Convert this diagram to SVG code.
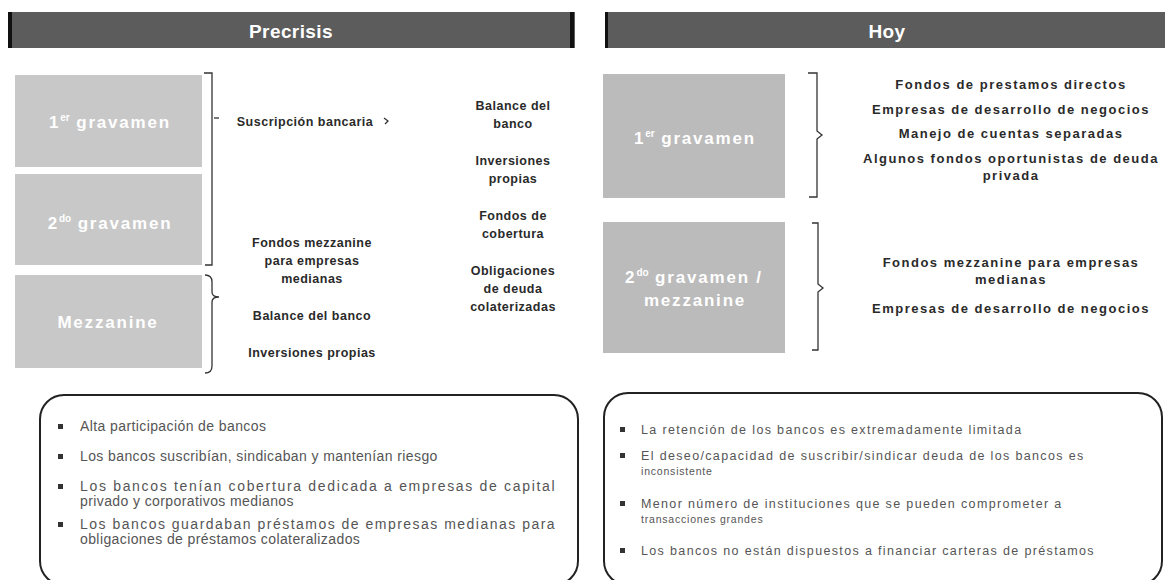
<svg xmlns="http://www.w3.org/2000/svg" width="1165" height="580" viewBox="0 0 1165 580">
<style>
.hdr{fill:#5c5c5c}
.hedge{fill:#111}
.htxt{font-family:"Liberation Sans",Arial,sans-serif;font-weight:bold;font-size:19px;fill:#fff;text-anchor:middle;letter-spacing:0.4px}
.boxL{fill:#c8c8c8}
.boxR{fill:#bbbbbb}
.btxt{font-family:"Liberation Sans",Arial,sans-serif;font-weight:bold;font-size:17px;fill:#fff;text-anchor:middle;letter-spacing:1.8px}
.sup{font-size:10px;letter-spacing:0}
.lbl{font-family:"Liberation Sans",Arial,sans-serif;font-weight:bold;font-size:12.5px;fill:#2a2a2a;text-anchor:middle;letter-spacing:0.5px}
.lblr{font-family:"Liberation Sans",Arial,sans-serif;font-weight:bold;font-size:13px;fill:#2a2a2a;text-anchor:middle;letter-spacing:1.5px}
.brace{fill:none;stroke:#333;stroke-width:1.3}
.panel{fill:none;stroke:#222;stroke-width:2}
.bul{fill:#333}
.btL{font-family:"Liberation Sans",Arial,sans-serif;font-size:14px;fill:#555;letter-spacing:0.4px}
.btR{font-family:"Liberation Sans",Arial,sans-serif;font-size:12.5px;fill:#555;letter-spacing:1.35px}
.btRs{font-family:"Liberation Sans",Arial,sans-serif;font-size:10.5px;fill:#555;letter-spacing:0.8px}
</style>
<rect width="1165" height="580" fill="#fff"/>
<g id="header-precrisis">
<rect class="hdr" x="8" y="12" width="567" height="36"/>
<rect class="hedge" x="8" y="12" width="4" height="36"/>
<rect class="hedge" x="570" y="12" width="4" height="36"/>
<text class="htxt" x="291" y="38">Precrisis</text>
</g>
<g id="header-hoy">
<rect class="hdr" x="605" y="12" width="560" height="36"/>
<rect class="hedge" x="605" y="12" width="3" height="36"/>
<text class="htxt" x="887" y="38">Hoy</text>
</g>
<g id="pre-1er-gravamen">
<rect class="boxL" x="15" y="75" width="187" height="92"/>
<text class="btxt" x="110" y="128">1<tspan class="sup" dy="-7">er</tspan><tspan dy="7"> gravamen</tspan></text>
</g>
<g id="pre-2do-gravamen">
<rect class="boxL" x="15" y="174" width="187" height="91"/>
<text class="btxt" x="110" y="229">2<tspan class="sup" dy="-7">do</tspan><tspan dy="7"> gravamen</tspan></text>
</g>
<g id="pre-mezzanine">
<rect class="boxL" x="15" y="275" width="187" height="93"/>
<text class="btxt" x="108" y="328">Mezzanine</text>
</g>
<g id="pre-col1">
<text class="lbl" x="305" y="126">Suscripción bancaria</text>
<text class="lbl" x="312" y="247">Fondos mezzanine</text>
<text class="lbl" x="312" y="265">para empresas</text>
<text class="lbl" x="312" y="283">medianas</text>
<text class="lbl" x="312" y="320">Balance del banco</text>
<text class="lbl" x="312" y="357">Inversiones propias</text>
</g>
<g id="pre-col2">
<text class="lbl" x="513" y="110">Balance del</text>
<text class="lbl" x="513" y="128">banco</text>
<text class="lbl" x="513" y="165">Inversiones</text>
<text class="lbl" x="513" y="183">propias</text>
<text class="lbl" x="513" y="220">Fondos de</text>
<text class="lbl" x="513" y="238">cobertura</text>
<text class="lbl" x="513" y="275">Obligaciones</text>
<text class="lbl" x="513" y="293">de deuda</text>
<text class="lbl" x="513" y="311">colaterizadas</text>
</g>
<g id="hoy-1er-gravamen">
<rect class="boxR" x="603" y="74" width="182" height="124"/>
<text class="btxt" x="695" y="144">1<tspan class="sup" dy="-7">er</tspan><tspan dy="7"> gravamen</tspan></text>
</g>
<g id="hoy-2do-gravamen">
<rect class="boxR" x="603" y="222" width="182" height="131"/>
<text class="btxt" x="694" y="283">2<tspan class="sup" dy="-7">do</tspan><tspan dy="7"> gravamen /</tspan></text>
<text class="btxt" x="695" y="306">mezzanine</text>
</g>
<g id="hoy-col1">
<text class="lblr" x="1011" y="89">Fondos de prestamos directos</text>
<text class="lblr" x="1011" y="114">Empresas de desarrollo de negocios</text>
<text class="lblr" x="1011" y="138">Manejo de cuentas separadas</text>
<text class="lblr" x="1011" y="163">Algunos fondos oportunistas de deuda</text>
<text class="lblr" x="1011" y="180">privada</text>
<text class="lblr" x="1011" y="267">Fondos mezzanine para empresas</text>
<text class="lblr" x="1011" y="284">medianas</text>
<text class="lblr" x="1011" y="313">Empresas de desarrollo de negocios</text>
</g>
<g id="connectors">
<path class="brace" d="M204,73 H212 V265 H205"/>
<path class="brace" d="M214,118 H219"/>
<path class="brace" d="M384,118 L388,121 L385,124"/>
<path class="brace" d="M205,275 Q212,275 212,282 V292 Q212,297 219,297 Q212,297 212,302 V366 Q212,373 205,373"/>
<path class="brace" d="M808,73 H817 V131 L822,135 L817,139 V197 H809"/>
<path class="brace" d="M812,223 H818 V284 L823,288 L818,292 V350 H812"/>
</g>
<g id="panel-precrisis">
<rect class="panel" x="40" y="395" width="538" height="190" rx="24"/>
<rect class="bul" x="58" y="424" width="5" height="5"/>
<rect class="bul" x="58" y="454" width="5" height="5"/>
<rect class="bul" x="58" y="484" width="5" height="5"/>
<rect class="bul" x="58" y="522" width="5" height="5"/>
<text class="btL" x="80" y="431">Alta participación de bancos</text>
<text class="btL" x="80" y="461">Los bancos suscribían, sindicaban y mantenían riesgo</text>
<text class="btL" x="80" y="491" textLength="475" lengthAdjust="spacing">Los bancos tenían cobertura dedicada a empresas de capital</text>
<text class="btL" x="80" y="506">privado y corporativos medianos</text>
<text class="btL" x="80" y="529" textLength="475" lengthAdjust="spacing">Los bancos guardaban préstamos de empresas medianas para</text>
<text class="btL" x="80" y="544">obligaciones de préstamos colateralizados</text>
</g>
<g id="panel-hoy">
<rect class="panel" x="604" y="393" width="558" height="192" rx="24"/>
<rect class="bul" x="620" y="427" width="5" height="5"/>
<rect class="bul" x="620" y="453" width="5" height="5"/>
<rect class="bul" x="620" y="501" width="5" height="5"/>
<rect class="bul" x="620" y="548" width="5" height="5"/>
<text class="btR" x="641" y="434">La retención de los bancos es extremadamente limitada</text>
<text class="btR" x="641" y="460">El deseo/capacidad de suscribir/sindicar deuda de los bancos es</text>
<text class="btRs" x="641" y="475">inconsistente</text>
<text class="btR" x="641" y="508">Menor número de instituciones que se pueden comprometer a</text>
<text class="btRs" x="641" y="523">transacciones grandes</text>
<text class="btR" x="641" y="555">Los bancos no están dispuestos a financiar carteras de préstamos</text>
</g>
</svg>
